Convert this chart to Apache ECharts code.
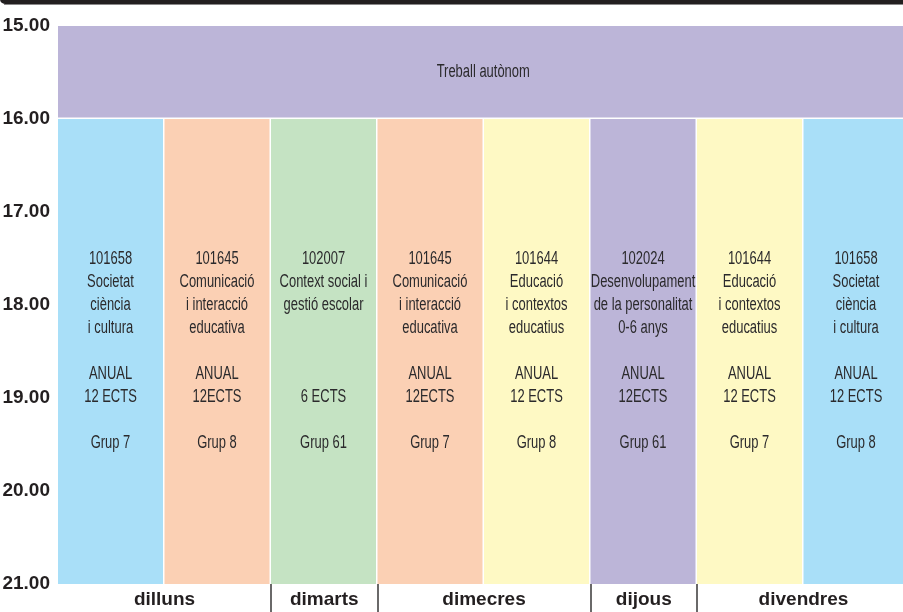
<!DOCTYPE html>
<html>
<head>
<meta charset="utf-8">
<script src="https://cdn.jsdelivr.net/npm/echarts@6/dist/echarts.min.js"></script>
<style>
  html, body { margin: 0; padding: 0; background: #fff; }
  #horari { width: 903px; height: 612px; }
</style>
</head>
<body>
<div id="horari"></div>
<script>
// hores de l'eix vertical
const hourTicks = [15, 16, 17, 18, 19, 20, 21];
// dies i quantes columnes ocupa cada dia
const days = ['dilluns', 'dimarts', 'dimecres', 'dijous', 'divendres'];
const daySpans = [2, 1, 2, 1, 2];

// franja de treball autònom
const autonomLabel = 'Treball autònom';
const autonomHours = [15, 16];

// assignatures (una per columna)
const classHours = [16, 21];
const codes = ['101658', '101645', '102007', '101645', '101644', '102024', '101644', '101658'];
const names = [
  'Societat\nciència\ni cultura',
  'Comunicació\ni interacció\neducativa',
  'Context social i\ngestió escolar\n',
  'Comunicació\ni interacció\neducativa',
  'Educació\ni contextos\neducatius',
  'Desenvolupament\nde la personalitat\n0-6 anys',
  'Educació\ni contextos\neducatius',
  'Societat\nciència\ni cultura'
];
const terms = ['ANUAL', 'ANUAL', '', 'ANUAL', 'ANUAL', 'ANUAL', 'ANUAL', 'ANUAL'];
const credits = ['12 ECTS', '12ECTS', '6 ECTS', '12ECTS', '12 ECTS', '12ECTS', '12 ECTS', '12 ECTS'];
const groups = ['Grup 7', 'Grup 8', 'Grup 61', 'Grup 7', 'Grup 8', 'Grup 61', 'Grup 7', 'Grup 8'];

// colors
const colBlue = '#a9dff8', colSalmon = '#fbd0b4', colGreen = '#c5e3c3',
      colYellow = '#fef9c4', colPurple = '#bcb5d8';
const classColors = [colBlue, colSalmon, colGreen, colSalmon, colYellow, colPurple, colYellow, colBlue];

const nCols = codes.length;

// blocs: [col inici, col fi, hora inici, hora fi, text, color]
const blocks = [[0, nCols, autonomHours[0], autonomHours[1], autonomLabel, colPurple]];
codes.forEach((c, i) => {
  const txt = [c, names[i], '', terms[i], credits[i], '', groups[i]].join('\n');
  blocks.push([i, i + 1, classHours[0], classHours[1], txt, classColors[i]]);
});

// posicions dels dies i separadors (en unitats de columna)
const dayCenters = [], dividers = [];
let acc = 0;
daySpans.forEach((s, i) => {
  dayCenters.push(acc + s / 2);
  acc += s;
  if (i < daySpans.length - 1) dividers.push(acc);
});

const textFont = '"Liberation Sans", Arial, sans-serif';
const gap = 1.5;

const renderBlock = (params, api) => {
  const p0 = api.coord([api.value(0), api.value(2)]);
  const p1 = api.coord([api.value(1), api.value(3)]);
  const b = blocks[params.dataIndex];
  const x = p0[0], y = p0[1];
  const w = p1[0] - p0[0] - gap;
  const h = p1[1] - p0[1] - (api.value(3) < classHours[1] ? gap : 0);
  return {
    type: 'group',
    children: [
      { type: 'rect', shape: { x: x, y: y, width: w, height: h }, style: { fill: b[5] } },
      {
        type: 'text',
        x: x + w / 2,
        y: y + h / 2,
        scaleX: 0.72,
        z2: 10,
        style: {
          text: b[4],
          fill: '#2b2a2c',
          font: '18px ' + textFont,
          lineHeight: 23,
          align: 'center',
          verticalAlign: 'middle'
        }
      }
    ]
  };
};

const myChart = echarts.init(document.getElementById('horari'), null, { renderer: 'canvas' });
myChart.setOption({
  animation: false,
  backgroundColor: '#ffffff',
  grid: { left: 58, right: -7, top: 26, bottom: 28, outerBoundsMode: 'none', containLabel: false },
  xAxis: {
    type: 'value',
    min: 0,
    max: nCols,
    position: 'bottom',
    splitLine: { show: false },
    axisLine: { show: false },
    axisTick: {
      show: true,
      customValues: dividers,
      length: 30,
      inside: false,
      lineStyle: { color: '#3a3839', width: 1.5 }
    },
    axisLabel: {
      customValues: dayCenters,
      formatter: v => days[dayCenters.indexOf(v)] || '',
      margin: 6,
      fontSize: 19,
      fontWeight: 'bold',
      fontFamily: textFont,
      color: '#231f20'
    }
  },
  yAxis: {
    type: 'value',
    inverse: true,
    min: hourTicks[0],
    max: hourTicks[hourTicks.length - 1],
    interval: 1,
    splitLine: { show: false },
    axisLine: { show: false },
    axisTick: { show: false },
    axisLabel: {
      formatter: v => v.toFixed(2),
      margin: 8,
      fontSize: 19,
      fontWeight: 'bold',
      fontFamily: textFont,
      color: '#231f20'
    }
  },
  graphic: [
    { type: 'rect', shape: { x: 0, y: -10, width: 930, height: 14, r: 5 }, style: { fill: '#231f20' } },
    { type: 'rect', shape: { x: 4, y: 4, width: 903, height: 1 }, style: { fill: '#8a8889' } }
  ],
  series: [{
    type: 'custom',
    renderItem: renderBlock,
    encode: { x: [0, 1], y: [2, 3] },
    data: blocks.map(b => [b[0], b[1], b[2], b[3]])
  }]
});
</script>
</body>
</html>
